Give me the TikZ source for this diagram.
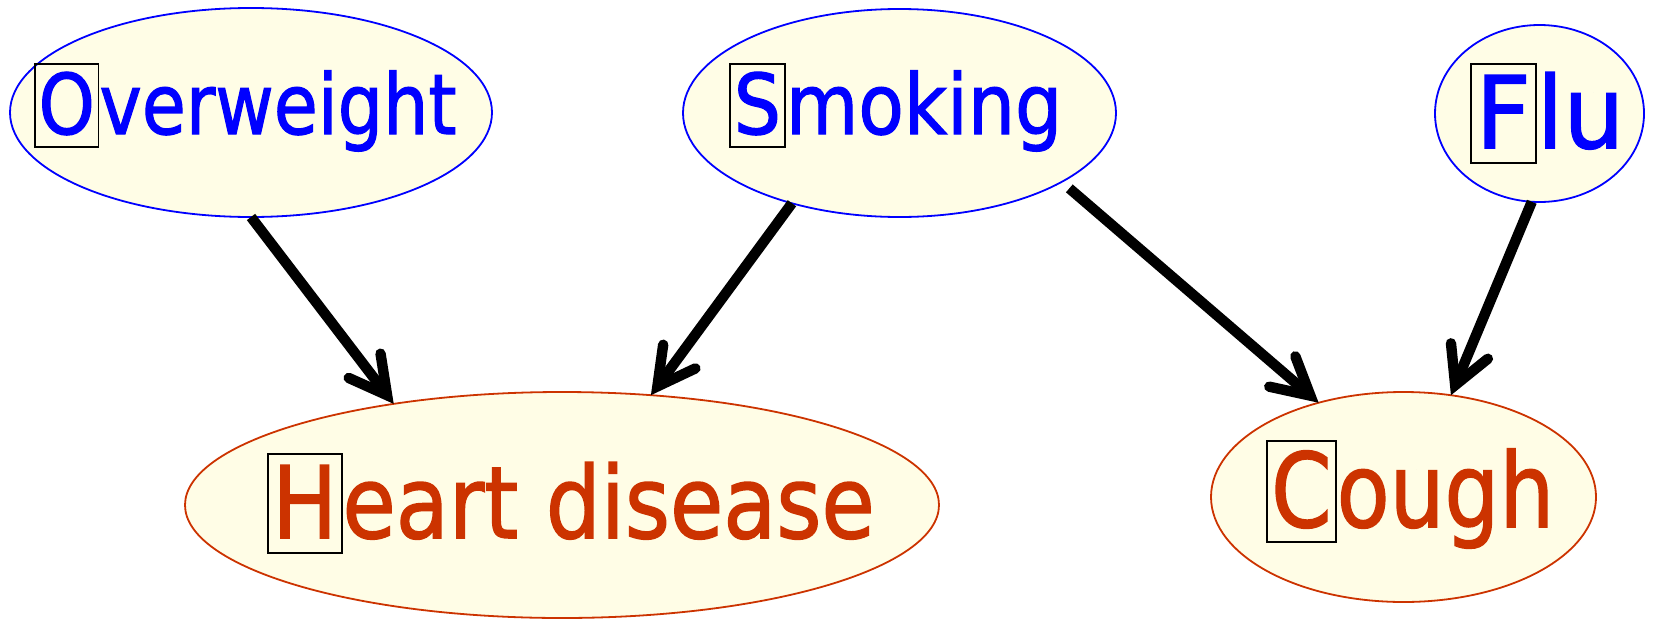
\documentclass[tikz,border=0pt]{standalone}
\usepackage{fontspec}
\usepackage{graphicx}
\usetikzlibrary{arrows.meta,shapes.geometric}
\newfontfamily\lblfont[FakeBold=1.5]{DejaVu Sans}
\definecolor{nodefill}{RGB}{255,253,230}
\definecolor{effred}{RGB}{204,51,0}
\newcommand\firstbox[2]{{\color{black}\setlength\fboxsep{0pt}\setlength\fboxrule{1pt}\fbox{\rule[-.14em]{0pt}{.97em}\kern.04em{\color{#1}#2}\kern.04em}}}
\begin{document}
\begin{tikzpicture}[x=0.5pt,y=-0.5pt,
  ell/.style={ellipse, draw=#1, fill=nodefill, line width=0.9pt, inner sep=0pt, outer sep=0pt},
  lbl/.style={inner sep=0pt, outer sep=0pt, anchor=base west, font=\lblfont},
  link/.style={line width=5.2pt, -{Straight Barb[length=18.5pt,width=20pt,line cap=round,line join=miter]}}
]
\useasboundingbox (0,0) rectangle (1653,621);
\node[ell=blue, minimum width=241pt, minimum height=104.5pt] (ow) at (251,112.5) {};
\node[ell=blue, minimum width=216.5pt, minimum height=104pt] (sm) at (899.5,113) {};
\node[ell=blue, minimum width=104.5pt, minimum height=88.5pt] (fl) at (1539.5,113.5) {};
\node[ell=effred, minimum width=377pt, minimum height=113pt] (hd) at (562,505) {};
\node[ell=effred, minimum width=192.5pt, minimum height=105pt] (cg) at (1403.5,497) {};
\node[lbl, text=blue] (owl) at (34,134) {\scalebox{0.855}[1]{\fontsize{41.85pt}{50pt}\selectfont\firstbox{blue}{O}verweight}};
\node[lbl, text=blue] (sml) at (729,134) {\scalebox{0.89}[1]{\fontsize{41.85pt}{50pt}\selectfont\firstbox{blue}{S}moking}};
\node[lbl, text=blue] (fll) at (1470,148) {\scalebox{0.96}[1]{\fontsize{50pt}{60pt}\selectfont\firstbox{blue}{F}lu}};
\node[lbl, text=effred] (hdl) at (267,538) {\scalebox{0.866}[1]{\fontsize{50pt}{60pt}\selectfont\firstbox{effred}{H}eart disease}};
\node[lbl, text=effred] (cgl) at (1266,527) {\scalebox{0.84}[1]{\fontsize{51.5pt}{60pt}\selectfont\firstbox{effred}{C}ough}};
\draw[link] (ow.south) -- (hd.149.6);
\draw[link] (sm.220.2) -- (hd.51.3);
\draw[link, shorten <=5pt] (sm.-23.6) -- (cg.132.5);
\draw[link] (fl.265.2) -- (cg.65.2);
\end{tikzpicture}
\end{document}
